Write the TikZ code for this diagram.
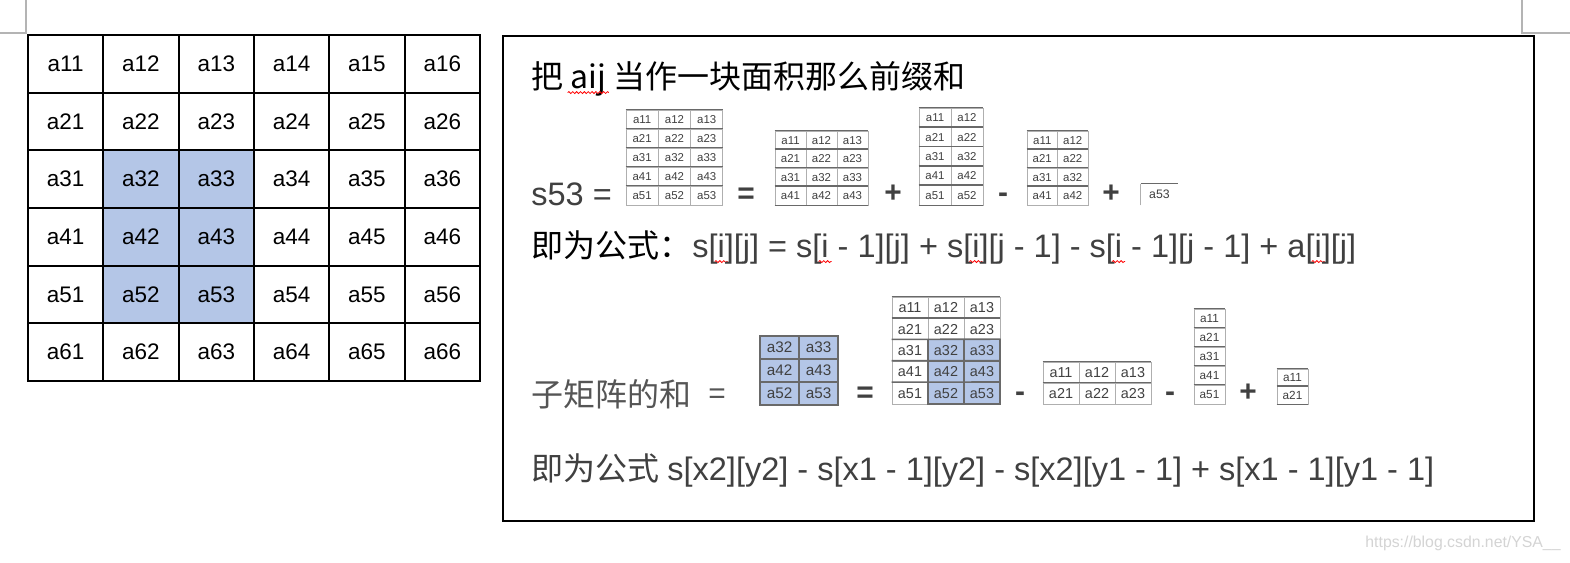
\documentclass[tikz,border=0pt]{standalone}
\usepackage{fontspec}
\setmainfont{Liberation Sans}
\newfontfamily\cjk{Noto Sans CJK SC}
\usepackage{tikz}
\usetikzlibrary{positioning,decorations.pathmorphing}
\definecolor{cellblue}{RGB}{180,198,231}
\definecolor{txtgray}{RGB}{64,64,64}
\definecolor{subgray}{RGB}{85,85,85}
\definecolor{hgray}{RGB}{105,105,105}
\definecolor{vgray}{RGB}{175,175,175}
\definecolor{markgray}{RGB}{180,180,180}
\definecolor{wmgray}{RGB}{212,212,212}
\tikzset{
  mcell/.style={rectangle,draw=black,line width=1.1pt,minimum width=1.5067cm,minimum height=1.1533cm,inner sep=0pt,font=\fontsize{12.8}{15}\selectfont},
  scell/.style={rectangle,draw=vgray,line width=0.5pt,inner sep=0pt,text=txtgray},
  bcell/.style={rectangle,draw=hgray,line width=0.7pt,fill=cellblue,inner sep=0pt,text=txtgray},
  csize/.style 2 args={minimum width=#1*0.02cm,minimum height=#2*0.02cm},
  tfont/.style={font=\fontsize{#1}{#1}\selectfont},
  hrule/.style={draw=hgray,line width=0.9pt},
  vrule/.style={draw=vgray,line width=0.5pt},
  op/.style={font=\bfseries\fontsize{17}{20}\selectfont,text=txtgray,inner sep=0pt},
  cjktext/.style={anchor=base west,inner sep=0pt,font=\cjk\fontsize{18.2}{21}\selectfont},
  formula/.style={anchor=base west,inner sep=0pt,text=txtgray,font=\fontsize{18.5}{21}\selectfont},
  frame/.style={draw=black,line width=1.6pt},
  pagemark/.style={draw=markgray,line width=0.6pt},
  squig/.style={draw=red,line width=0.45pt,decorate,decoration={snake,amplitude=0.55pt,segment length=2.2pt}},
}
% spell-check wave under a word
\newcommand{\sq}[1]{\tikz[baseline=(w.base)]{\node[inner sep=0pt,outer sep=0pt,anchor=base] (w) {#1};
  \draw[squig,overlay] ([xshift=-1.6pt,yshift=-2.6pt]w.base west) -- ([xshift=1.6pt,yshift=-2.6pt]w.base east);}}
\begin{document}
\begin{tikzpicture}[x=0.02cm,y=-0.02cm]
  \useasboundingbox (0,0) rectangle (1570,562);
  \fill[white] (0,0) rectangle (1570,562);
  % page corners
  \draw[pagemark] (0,33) -- (26,33) -- (26,0);
  \draw[pagemark] (1570,33) -- (1522,33) -- (1522,0);

  % big matrix
  \foreach \r in {1,...,6}
    \foreach \c in {1,...,6}{
      \pgfmathtruncatemacro\hl{(\r>2)&&(\r<6)&&(\c>1)&&(\c<4)}
      \ifnum\hl=1 \def\cellfill{cellblue}\else\def\cellfill{white}\fi
      \node[mcell,fill=\cellfill] (m\r\c) at ({28+75.33*(\c-0.5)},{35+57.67*(\r-0.5)}) {a\r\c};
    }

  \draw[frame] (503,36) rectangle (1534,521);
  \node[cjktext] (head) at (531,88) {把 \sq{aij} 当作一块面积那么前缀和};

  % s53
  \node[formula] (s53) at (531,205) {s53 =};
  \foreach \r in {1,...,5}{
    \foreach \c in {1,...,3}
      \node[scell,csize={32.3}{19},tfont=6.5] (pa\r\c) at ({626+32.3*(\c-0.5)},{110+19*(\r-0.5)}) {a\r\c};
    \draw[hrule] (pa\r1.north west) -- (pa\r3.north east);
  }
  \node[op] (eq1) at (746,196) {=};
  \foreach \r in {1,...,4}{
    \foreach \c in {1,...,3}
      \node[scell,csize={31}{18.5},tfont=6.5] (pb\r\c) at ({775+31*(\c-0.5)},{131+18.5*(\r-0.5)}) {a\r\c};
    \draw[hrule] (pb\r1.north west) -- (pb\r3.north east);
  }
  \draw[hrule] (pb41.south west) -- (pb43.south east);
  \node[op] (plus1) at (893,194) {+};
  \foreach \r in {1,...,5}{
    \foreach \c in {1,2}
      \node[scell,csize={32}{19.4},tfont=6.5] (pc\r\c) at ({919+32*(\c-0.5)},{108+19.4*(\r-0.5)}) {a\r\c};
    \draw[hrule] (pc\r1.north west) -- (pc\r2.north east);
  }
  \draw[hrule] (pc51.south west) -- (pc52.south east);
  \node[op] (minus1) at (1003,198) {-};
  \foreach \r in {1,...,4}{
    \foreach \c in {1,2}
      \node[scell,csize={30.5}{18.5},tfont=6.5] (pd\r\c) at ({1027+30.5*(\c-0.5)},{131+18.5*(\r-0.5)}) {a\r\c};
    \draw[hrule] (pd\r1.north west) -- (pd\r2.north east);
  }
  \node[op] (plus2) at (1111,194) {+};
  \node[scell,draw=none,csize={37}{21},tfont=7] (pe) at (1159.5,194.5) {a53};
  \draw[vrule] (pe.south west) -- (pe.north west);
  \draw[hrule] (pe.north west) -- (pe.north east);

  \node[cjktext] (lbl1) at (531,257) {即为公式：};
  \node[formula] (f1) at (692,257) {s[\sq{i}][j] = s[\sq{i} - 1][j] + s[\sq{i}][j - 1] - s[\sq{i} - 1][j - 1] + a[\sq{i}][j]};

  % sub matrix
  \node[cjktext,text=subgray] (sub) at (531,406) {子矩阵的和};
  \node[op,font=\fontsize{17}{20}\selectfont,text=subgray] (eq0) at (717,396) {=};
  \foreach \r in {3,4,5}
    \foreach \c in {2,3}
      \node[bcell,csize={39}{23},tfont=8.7] (qa\r\c) at ({760+39*(\c-1.5)},{336+23*(\r-2.5)}) {a\r\c};
  \node[op] (eq2) at (865,395) {=};
  \foreach \r in {1,...,5}{
    \foreach \c in {1,...,3}{
      \pgfmathtruncatemacro\hl{(\r>2)&&(\c>1)}
      \ifnum\hl=1 \def\cellstyle{bcell}\else\def\cellstyle{scell}\fi
      \node[\cellstyle,csize={36}{21.4},tfont=8.2] (qb\r\c) at ({892+36*(\c-0.5)},{297+21.4*(\r-0.5)}) {a\r\c};
    }
    \draw[hrule] (qb\r1.north west) -- (qb\r3.north east);
  }
  \node[op] (minus2) at (1020,397) {-};
  \foreach \r in {1,2}{
    \foreach \c in {1,...,3}
      \node[scell,csize={36}{21},tfont=8.2] (qc\r\c) at ({1043+36*(\c-0.5)},{362+21*(\r-0.5)}) {a\r\c};
    \draw[hrule] (qc\r1.north west) -- (qc\r3.north east);
  }
  \node[op] (minus3) at (1170,397) {-};
  \foreach \r in {1,...,5}{
    \node[scell,csize={31}{19},tfont=6.7] (qd\r) at (1209.5,{309+19*(\r-0.5)}) {a\r1};
    \draw[hrule] (qd\r.north west) -- (qd\r.north east);
  }
  \node[op] (plus3) at (1248,393) {+};
  \foreach \r in {1,2}{
    \node[scell,csize={31}{17.5},tfont=6.7] (qe\r) at (1292.5,{369+17.5*(\r-0.5)}) {a\r1};
    \draw[hrule] (qe\r.north west) -- (qe\r.north east);
  }
  \draw[hrule] (qe2.south west) -- (qe2.south east);

  \node[cjktext,text=txtgray] (lbl2) at (531,480) {即为公式};
  \node[formula] (f2) at (667,480) {s[x2][y2] - s[x1 - 1][y2] - s[x2][y1 - 1] + s[x1 - 1][y1 - 1]};

  \node[text=wmgray,font=\fontsize{9}{10}\selectfont] (wm) at (1463,543) {https://blog.csdn.net/YSA\_\_};
\end{tikzpicture}
\end{document}
